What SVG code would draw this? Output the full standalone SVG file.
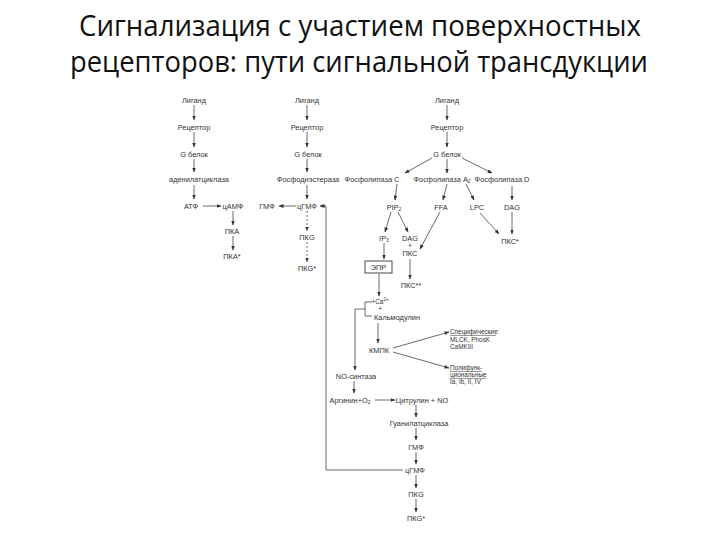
<svg xmlns="http://www.w3.org/2000/svg" width="720" height="540" viewBox="0 0 720 540">
<defs>
<marker id="ah" markerWidth="5" markerHeight="5" refX="4.5" refY="2.5" orient="auto" markerUnits="userSpaceOnUse">
<path d="M0,0.6 L5,2.5 L0,4.4 Z" fill="#333"/>
</marker>
</defs>
<style>
.t{font-family:"Liberation Sans",Arial,sans-serif;font-size:7.4px;fill:#333;text-anchor:middle}
.s{font-size:6.4px}
.l{text-anchor:start}
.ti{font-family:"Open Sans","Liberation Sans",sans-serif;font-size:29px;fill:#111;text-anchor:middle}
.c{stroke:#444;stroke-width:0.8;fill:none;marker-end:url(#ah)}
.d{stroke-dasharray:2,2}
.n{stroke:#444;stroke-width:0.8;fill:none}
.u{stroke:#444;stroke-width:0.6}
</style>
<rect width="720" height="540" fill="#fff"/>
<g id="title">
<text class="ti" x="360" y="36" textLength="562" lengthAdjust="spacingAndGlyphs">Сигнализация с участием поверхностных</text>
<text class="ti" x="359" y="72" textLength="578" lengthAdjust="spacingAndGlyphs">рецепторов: пути сигнальной трансдукции</text>
</g>
<g id="connectors">
<line class="c" x1="194" y1="105" x2="194" y2="120"/>
<line class="c" x1="194" y1="132" x2="194" y2="147"/>
<line class="c" x1="194" y1="159" x2="194" y2="172"/>
<line class="c" x1="194" y1="185" x2="194" y2="199"/>
<line class="c" x1="203" y1="206" x2="221" y2="206"/>
<line class="c" x1="233" y1="211" x2="233" y2="225"/>
<line class="c" x1="233" y1="236" x2="233" y2="250"/>
<line class="c" x1="307" y1="105" x2="307" y2="120"/>
<line class="c" x1="307" y1="132" x2="307" y2="147"/>
<line class="c" x1="307" y1="159" x2="307" y2="172"/>
<line class="c" x1="307" y1="185" x2="307" y2="199"/>
<line class="c" x1="296" y1="206" x2="279" y2="206"/>
<line class="c d" x1="307" y1="211" x2="307" y2="231"/>
<line class="c d" x1="307" y1="242" x2="307" y2="262"/>
<path class="c" d="M403,470 H326 V206 H320"/>
<line class="c" x1="447" y1="105" x2="447" y2="120"/>
<line class="c" x1="447" y1="132" x2="447" y2="147"/>
<line class="c" x1="432" y1="158" x2="405" y2="173"/>
<line class="c" x1="447" y1="159" x2="447" y2="173"/>
<line class="c" x1="462" y1="158" x2="492" y2="173"/>
<line class="c" x1="397" y1="184" x2="395" y2="200"/>
<line class="c" x1="447" y1="184" x2="443" y2="200"/>
<line class="c" x1="466" y1="184" x2="474" y2="200"/>
<line class="c" x1="512" y1="186" x2="512" y2="200"/>
<line class="c" x1="391" y1="212" x2="385" y2="232"/>
<line class="c" x1="398" y1="212" x2="408" y2="232"/>
<line class="c" x1="440" y1="212" x2="420" y2="249"/>
<line class="c" x1="480" y1="213" x2="499" y2="234"/>
<line class="c" x1="512" y1="212" x2="512" y2="234"/>
<line class="c" x1="384" y1="243" x2="384" y2="259"/>
<line class="c" x1="410" y1="259" x2="410" y2="279"/>
<line class="c" x1="379" y1="274" x2="379" y2="296"/>
<path class="n" d="M372,302 H365 V316 H372"/>
<path class="c" d="M365,309 H355 V370"/>
<line class="c" x1="378" y1="323" x2="378" y2="343"/>
<line class="c" x1="393" y1="348" x2="449" y2="332"/>
<line class="c" x1="393" y1="352" x2="449" y2="368"/>
<line class="c" x1="354" y1="381" x2="354" y2="393"/>
<line class="c" x1="375" y1="400" x2="395" y2="400"/>
<line class="c" x1="416" y1="405" x2="416" y2="417"/>
<line class="c" x1="416" y1="428" x2="416" y2="440"/>
<line class="c" x1="416" y1="452" x2="416" y2="464"/>
<line class="c" x1="416" y1="475" x2="416" y2="488"/>
<line class="c" x1="416" y1="499" x2="416" y2="512"/>
</g>
<g id="n1-ligand"><text class="t" x="194" y="102.5">Лиганд</text></g>
<g id="n1-receptor"><text class="t" x="194" y="129.5">Рецептор</text></g>
<g id="n1-gprotein"><text class="t" x="194" y="156.5">G белок</text></g>
<g id="n1-ac"><text class="t" x="199" y="181.5">аденилатциклаза</text></g>
<g id="n1-atp"><text class="t" x="191" y="208.5">АТФ</text></g>
<g id="n1-camp"><text class="t" x="233" y="208.5">цАМФ</text></g>
<g id="n1-pka"><text class="t" x="232" y="233.5">ПКА</text></g>
<g id="n1-pka2"><text class="t" x="232" y="258.5">ПКА*</text></g>
<g id="n2-ligand"><text class="t" x="307" y="102.5">Лиганд</text></g>
<g id="n2-receptor"><text class="t" x="307" y="129.5">Рецептор</text></g>
<g id="n2-gprotein"><text class="t" x="308" y="156.5">G белок</text></g>
<g id="n2-pde"><text class="t" x="308" y="181.5">Фосфодиэстераза</text></g>
<g id="n2-gmp"><text class="t" x="267" y="208.5">ГМФ</text></g>
<g id="n2-cgmp"><text class="t" x="307" y="208.5">цГМФ</text></g>
<g id="n2-pkg"><text class="t" x="307" y="239.5">ПКG</text></g>
<g id="n2-pkg2"><text class="t" x="307" y="270.5">ПКG*</text></g>
<g id="n3-ligand"><text class="t" x="447" y="102.5">Лиганд</text></g>
<g id="n3-receptor"><text class="t" x="447" y="129.5">Рецептор</text></g>
<g id="n3-gprotein"><text class="t" x="447" y="156.5">G белок</text></g>
<g id="n3-plc"><text class="t" x="372" y="181.5">Фосфолипаза С</text></g>
<g id="n3-pla2"><text class="t" x="442" y="181.5">Фосфолипаза А<tspan font-size="5" dy="1.5">2</tspan></text></g>
<g id="n3-pld"><text class="t" x="502" y="181.5">Фосфолипаза D</text></g>
<g id="n3-pip2"><text class="t" x="394" y="209.5">PIP<tspan font-size="5" dy="1.5">2</tspan></text></g>
<g id="n3-ffa"><text class="t" x="441" y="209.5">FFA</text></g>
<g id="n3-lpc"><text class="t" x="477" y="209.5">LPC</text></g>
<g id="n3-dag"><text class="t" x="512" y="209.5">DAG</text></g>
<g id="n3-ip3"><text class="t" x="384" y="240.5">IP<tspan font-size="5" dy="1.5">3</tspan></text></g>
<g id="n3-dagpkc"><text class="t" x="410" y="240.5">DAG</text><text class="t s" x="410" y="248">+</text><text class="t" x="410" y="256">ПКС</text></g>
<g id="n3-pkc1"><text class="t" x="510" y="243.5">ПКС*</text></g>
<g id="n3-er"><rect x="365" y="261" width="27" height="12" fill="#fff" stroke="#333" stroke-width="0.9"/><text class="t" x="378.5" y="269.5">ЭПР</text></g>
<g id="n3-pkc2"><text class="t" x="411" y="288">ПКС**</text></g>
<g id="n3-ca"><text class="t s" x="380" y="303.5">+Ca<tspan font-size="4.5" dy="-2.2">2+</tspan></text><text class="t s" x="380" y="311">+</text><text class="t" x="397" y="319.5">Кальмодулин</text></g>
<g id="n3-cmpk"><text class="t" x="379" y="352.5">КМПК</text></g>
<g id="n3-specific"><text class="t s l" x="450" y="334">Специфические</text><line class="u" x1="450" y1="335.4" x2="496" y2="335.4"/><text class="t s l" x="450" y="341.5">MLCK, PhosK</text><text class="t s l" x="450" y="348.5">CaMKIII</text></g>
<g id="n3-poly"><text class="t s l" x="450" y="370">Полифунк-</text><line class="u" x1="450" y1="371.4" x2="482" y2="371.4"/><text class="t s l" x="450" y="377">циональные</text><line class="u" x1="450" y1="378.4" x2="486" y2="378.4"/><text class="t s l" x="450" y="384">Ia, Ib, II, IV</text></g>
<g id="n3-nos"><text class="t" x="356" y="378.5">NO-синтаза</text></g>
<g id="n3-arg"><text class="t" x="350" y="402.5">Аргинин+O<tspan font-size="5" dy="1.5">2</tspan></text></g>
<g id="n3-citr"><text class="t" x="422" y="402.5">Цитрулин + NO</text></g>
<g id="n3-gc"><text class="t" x="419" y="425.5">Гуанилатциклаза</text></g>
<g id="n3-gmp"><text class="t" x="416" y="449.5">ГМФ</text></g>
<g id="n3-cgmp"><text class="t" x="415" y="472.5">цГМФ</text></g>
<g id="n3-pkg"><text class="t" x="416" y="496.5">ПКG</text></g>
<g id="n3-pkg2"><text class="t" x="416" y="520.5">ПКG*</text></g>
</svg>
